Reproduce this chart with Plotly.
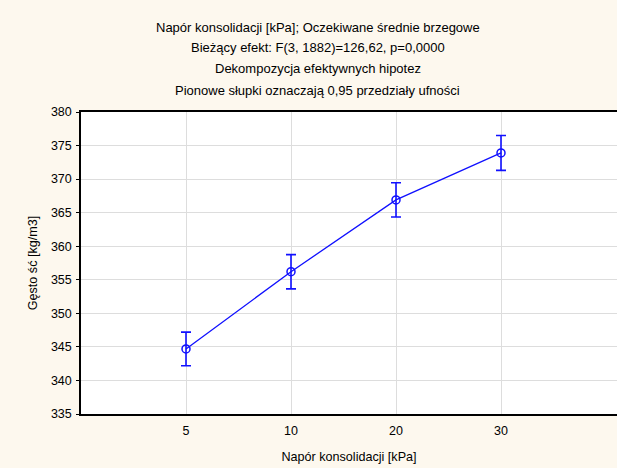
import plotly.graph_objects as go

categories = ["5", "10", "20", "30"]
means = [344.7, 356.2, 366.9, 373.9]
ci_half = [2.5, 2.55, 2.55, 2.6]
title_lines = [
    "Napór konsolidacji [kPa]; Oczekiwane średnie brzegowe",
    "Bieżący efekt: F(3, 1882)=126,62, p=0,0000",
    "Dekompozycja efektywnych hipotez",
    "Pionowe słupki oznaczają 0,95 przedziały ufności",
]
y_ticks = [335, 340, 345, 350, 355, 360, 365, 370, 375, 380]

xpos = list(range(1, len(categories) + 1))
blue = "#1010FF"

fig = go.Figure()
fig.add_trace(go.Scatter(
    x=xpos, y=means, mode="lines+markers",
    line=dict(color=blue, width=1.3),
    marker=dict(symbol="circle-open", size=8, color=blue, line=dict(width=1.5, color=blue)),
    error_y=dict(type="data", array=ci_half, visible=True, color=blue, thickness=1.6, width=5),
    showlegend=False,
))

L, R, T, B = 81, 0, 112, 54
W, H = 617, 468
ph = H - T - B
pw = W - L - R
unit_px = 105.0
line_pix = [27, 47.5, 68.5, 90]
annotations = []
for txt, yp in zip(title_lines, line_pix):
    annotations.append(dict(
        text=txt, xref="paper", yref="paper",
        x=(317.5 - L) / pw, y=(H - B - yp) / ph,
        showarrow=False, xanchor="center", yanchor="middle",
        font=dict(size=13, color="#000000", family="Arial, Liberation Sans"),
    ))

fig.update_layout(
    width=W, height=H,
    margin=dict(l=L, r=R, t=T, b=B),
    paper_bgcolor="#FDF8EE",
    plot_bgcolor="#FFFFFF",
    font=dict(family="Arial, Liberation Sans", size=12.5, color="#000000"),
    annotations=annotations,
    xaxis=dict(
        range=[0, pw / unit_px], tickmode="array", tickvals=xpos, ticktext=categories,
        showgrid=True, gridcolor="#DDDDDD", gridwidth=1,
        showline=True, linecolor="#000000", linewidth=1.5, mirror=True,
        ticks="", zeroline=False, automargin=False, ticklabelstandoff=4,
        tickfont=dict(size=12.5),
        title=dict(text="Napór konsolidacji [kPa]", standoff=15, font=dict(size=12.6)),
    ),
    yaxis=dict(
        range=[335, 380], tickmode="array", tickvals=y_ticks,
        showgrid=True, gridcolor="#DDDDDD", gridwidth=1,
        showline=True, linecolor="#000000", linewidth=1.5, mirror=False,
        ticks="outside", ticklen=3, tickcolor="#000000", zeroline=False, automargin=False,
        tickfont=dict(size=12.5), ticklabelstandoff=2,
        title=dict(text="Gęsto ść [kg/m3]", standoff=10, font=dict(size=12.6)),
    ),
)

fig.write_html("out.html", config={"displayModeBar": False},
               post_script="document.body.style.margin='0';")
